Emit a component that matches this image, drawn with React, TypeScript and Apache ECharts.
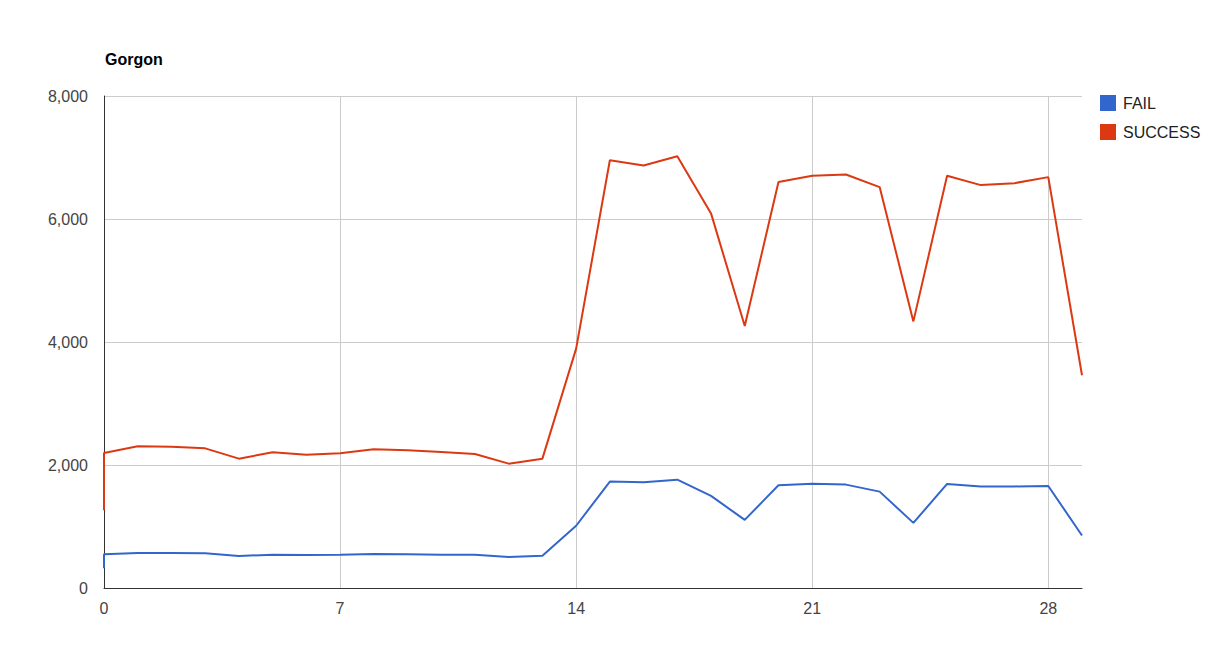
import React, { useEffect, useRef } from "react";
import * as echarts from "echarts";

const xValues = [0, 0, 1, 2, 3, 4, 5, 6, 7, 8, 9, 10, 11, 12, 13, 14, 15, 16, 17, 18, 19, 20, 21, 22, 23, 24, 25, 26, 27, 28, 29];
const failValues = [320, 547, 569, 569, 564, 520, 542, 537, 542, 553, 548, 542, 540, 504, 526, 1012, 1730, 1719, 1762, 1497, 1108, 1670, 1697, 1681, 1567, 1059, 1692, 1649, 1652, 1659, 854];
const successValues = [1265, 2195, 2304, 2298, 2271, 2103, 2206, 2168, 2190, 2255, 2239, 2211, 2179, 2022, 2103, 3892, 6956, 6870, 7021, 6091, 4259, 6600, 6702, 6724, 6519, 4335, 6702, 6551, 6583, 6681, 3459];
const xTicks = [0, 7, 14, 21, 28];

export default function App() {
  const ref = useRef<HTMLDivElement>(null);
  useEffect(() => {
    if (!ref.current) return;
    const chart = echarts.init(ref.current, undefined, { renderer: "svg" });
    const font = "Arial, 'Liberation Sans', sans-serif";
    chart.setOption({
      animation: false,
      backgroundColor: "#ffffff",
      title: {
        text: "Gorgon",
        left: 100,
        top: 46,
        textStyle: { fontFamily: font, fontSize: 16, fontWeight: "bold", color: "#000" },
      },
      legend: {
        orient: "vertical",
        left: 1095,
        top: 90,
        itemWidth: 16,
        itemHeight: 16,
        itemGap: 13,
        icon: "rect",
        textStyle: { fontFamily: font, fontSize: 16, color: "#222", padding: [0, 0, 0, 2] },
        data: ["FAIL", "SUCCESS"],
      },
      grid: { left: 104, right: 143, top: 96, bottom: 71, containLabel: false },
      xAxis: {
        type: "value",
        min: 0,
        max: 29,
        interval: 7,
        axisLine: { show: true, onZero: false, lineStyle: { color: "#333", width: 1 } },
        axisTick: { show: false },
        axisLabel: {
          fontFamily: font,
          fontSize: 16,
          color: "#444",
          margin: 12,
          showMaxLabel: false,
          formatter: (v: number) => (xTicks.includes(v) ? String(v) : ""),
        },
        splitLine: {
          show: true,
          lineStyle: { color: ["#cccccc", "#cccccc", "#cccccc", "#cccccc", "#cccccc", "rgba(0,0,0,0)"], width: 1 },
        },
      },
      yAxis: {
        type: "value",
        min: 0,
        max: 8000,
        interval: 2000,
        axisLine: { show: true, lineStyle: { color: "#333", width: 1 } },
        axisTick: { show: false },
        axisLabel: { fontFamily: font, fontSize: 16, color: "#444", margin: 16 },
        splitLine: { show: true, lineStyle: { color: "#cccccc", width: 1 } },
      },
      series: [
        {
          name: "FAIL",
          type: "line",
          data: xValues.map((x, i) => [x, failValues[i]]),
          showSymbol: false,
          symbol: "none",
          color: "#3366cc",
          lineStyle: { width: 2, color: "#3366cc" },
          z: 3,
        },
        {
          name: "SUCCESS",
          type: "line",
          data: xValues.map((x, i) => [x, successValues[i]]),
          showSymbol: false,
          symbol: "none",
          color: "#dc3912",
          lineStyle: { width: 2, color: "#dc3912" },
          z: 3,
        },
      ],
    });
    return () => chart.dispose();
  }, []);
  return (
    <div
      ref={ref}
      style={{ position: "fixed", left: 0, top: 0, width: 1225, height: 659 }}
    />
  );
}
